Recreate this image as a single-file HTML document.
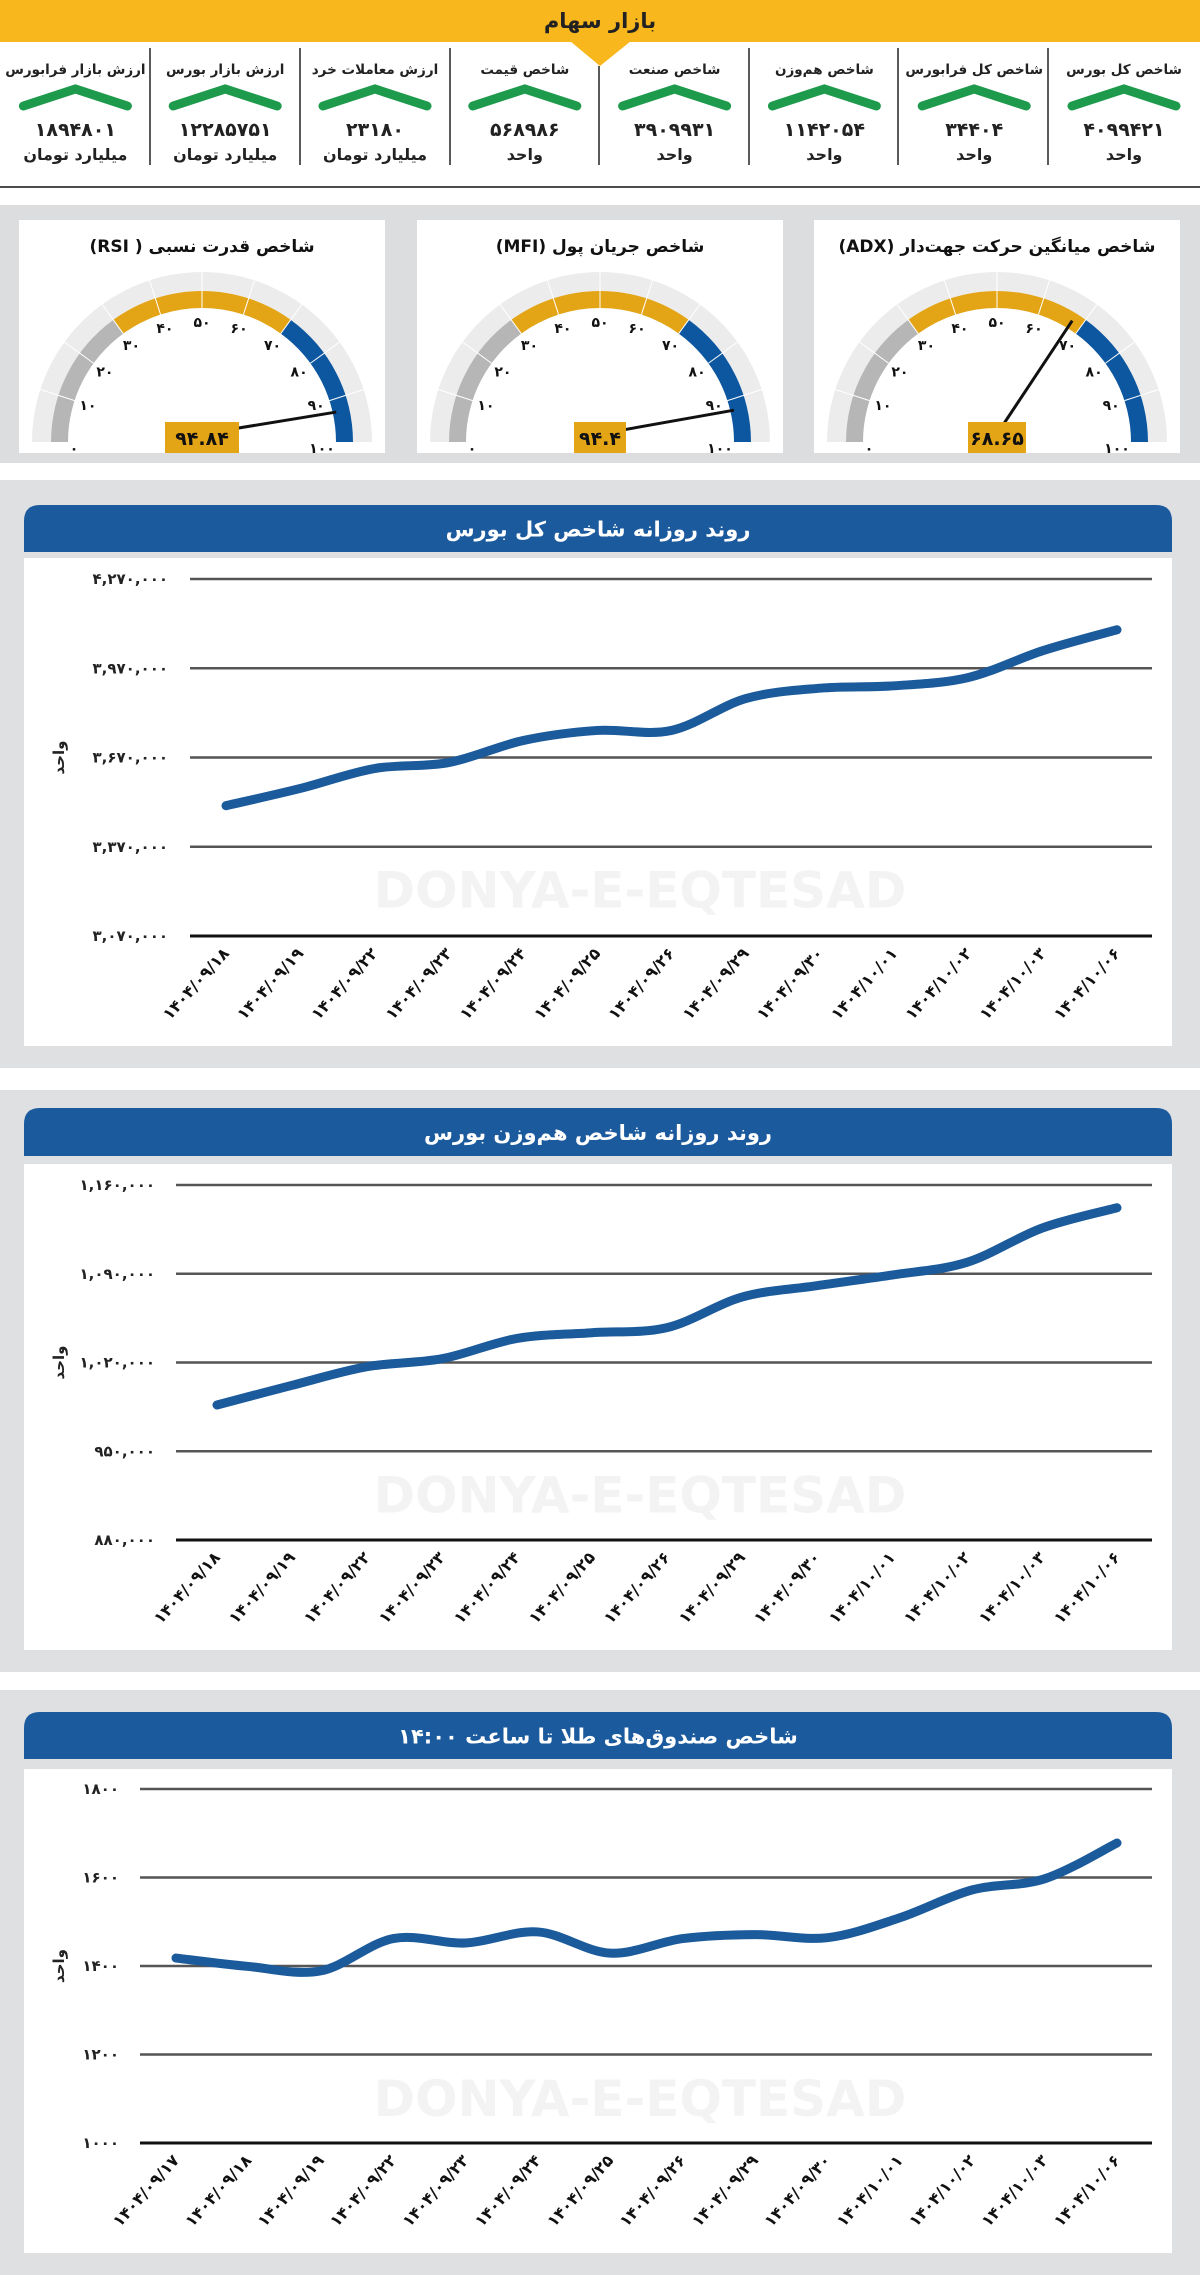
<!DOCTYPE html>
<html lang="fa"><head><meta charset="utf-8"><title>بازار سهام</title>
<style>
html,body{margin:0;padding:0;background:#fff;}
svg{display:block;}
text{font-family:"DejaVu Sans","Liberation Sans",sans-serif;}
</style></head>
<body>
<svg id="root" width="1200" height="2275" viewBox="0 0 1200 2275" xmlns="http://www.w3.org/2000/svg">
  <rect x="0" y="0" width="1200" height="2275" fill="#ffffff"/>
  <g>
    <rect x="0" y="0" width="1200" height="42" fill="#f8b71c"/>
    <polygon points="570,41 631,41 600,66" fill="#f8b71c"/>
    <text x="600" y="28" text-anchor="middle" font-size="21" font-weight="bold" fill="#222" direction="rtl">بازار سهام</text>
  </g>
  <g id="stats"></g>
  <line x1="0" y1="187" x2="1200" y2="187" stroke="#111" stroke-width="1.5"/>
  <rect x="0" y="205" width="1200" height="258" fill="#dcdddf"/>
  <g id="gauges"></g>
  <g id="charts"></g>
</svg>
<script>
const NS='http://www.w3.org/2000/svg';
function mk(tag, attrs, parent){const e=document.createElementNS(NS,tag);for(const k in attrs)e.setAttribute(k,attrs[k]);parent.appendChild(e);return e;}

const statTitles=['شاخص کل بورس','شاخص کل فرابورس','شاخص هم‌وزن','شاخص صنعت','شاخص قیمت','ارزش معاملات خرد','ارزش بازار بورس','ارزش بازار فرابورس'];
const statValues=['۴۰۹۹۴۲۱','۳۴۴۰۴','۱۱۴۲۰۵۴','۳۹۰۹۹۳۱','۵۶۸۹۸۶','۲۳۱۸۰','۱۲۲۸۵۷۵۱','۱۸۹۴۸۰۱'];
const statUnits=['واحد','واحد','واحد','واحد','واحد','میلیارد تومان','میلیارد تومان','میلیارد تومان'];

const gaugeTitles=['شاخص میانگین حرکت جهت‌دار (ADX)','شاخص جریان پول (MFI)','شاخص قدرت نسبی ( RSI)'];
const gaugeValues=[68.65,94.4,94.84];
const gaugeLabels=['۶۸.۶۵','۹۴.۴','۹۴.۸۴'];
const gaugeTicks=['۰','۱۰','۲۰','۳۰','۴۰','۵۰','۶۰','۷۰','۸۰','۹۰','۱۰۰'];

const c1Dates=['۱۴۰۴/۰۹/۱۸','۱۴۰۴/۰۹/۱۹','۱۴۰۴/۰۹/۲۲','۱۴۰۴/۰۹/۲۳','۱۴۰۴/۰۹/۲۴','۱۴۰۴/۰۹/۲۵','۱۴۰۴/۰۹/۲۶','۱۴۰۴/۰۹/۲۹','۱۴۰۴/۰۹/۳۰','۱۴۰۴/۱۰/۰۱','۱۴۰۴/۱۰/۰۲','۱۴۰۴/۱۰/۰۳','۱۴۰۴/۱۰/۰۶'];
const c1Values=[3508000,3566000,3633000,3653000,3727000,3761000,3761000,3868000,3903000,3911000,3939000,4029000,4099421];
const c1Ticks=[3070000,3370000,3670000,3970000,4270000];
const c1TickLabels=['۳,۰۷۰,۰۰۰','۳,۳۷۰,۰۰۰','۳,۶۷۰,۰۰۰','۳,۹۷۰,۰۰۰','۴,۲۷۰,۰۰۰'];

const c2Dates=['۱۴۰۴/۰۹/۱۸','۱۴۰۴/۰۹/۱۹','۱۴۰۴/۰۹/۲۲','۱۴۰۴/۰۹/۲۳','۱۴۰۴/۰۹/۲۴','۱۴۰۴/۰۹/۲۵','۱۴۰۴/۰۹/۲۶','۱۴۰۴/۰۹/۲۹','۱۴۰۴/۰۹/۳۰','۱۴۰۴/۱۰/۰۱','۱۴۰۴/۱۰/۰۲','۱۴۰۴/۱۰/۰۳','۱۴۰۴/۱۰/۰۶'];
const c2Values=[986500,1002000,1016700,1023000,1039000,1043500,1047500,1071600,1080600,1089000,1099000,1126000,1142054];
const c2Ticks=[880000,950000,1020000,1090000,1160000];
const c2TickLabels=['۸۸۰,۰۰۰','۹۵۰,۰۰۰','۱,۰۲۰,۰۰۰','۱,۰۹۰,۰۰۰','۱,۱۶۰,۰۰۰'];

const c3Dates=['۱۴۰۴/۰۹/۱۷','۱۴۰۴/۰۹/۱۸','۱۴۰۴/۰۹/۱۹','۱۴۰۴/۰۹/۲۲','۱۴۰۴/۰۹/۲۳','۱۴۰۴/۰۹/۲۴','۱۴۰۴/۰۹/۲۵','۱۴۰۴/۰۹/۲۶','۱۴۰۴/۰۹/۲۹','۱۴۰۴/۰۹/۳۰','۱۴۰۴/۱۰/۰۱','۱۴۰۴/۱۰/۰۲','۱۴۰۴/۱۰/۰۳','۱۴۰۴/۱۰/۰۶'];
const c3Values=[1418,1399,1389,1462,1452,1477,1429,1462,1471,1464,1509,1572,1597,1678];
const c3Ticks=[1000,1200,1400,1600,1800];
const c3TickLabels=['۱۰۰۰','۱۲۰۰','۱۴۰۰','۱۶۰۰','۱۸۰۰'];

const stats=document.getElementById('stats');
statTitles.forEach((t,i)=>{
  const cx=1124-i*149.8;
  const g=mk('g',{},stats);
  
  
  const tt=mk('text',{x:cx,y:74,'text-anchor':'middle','font-size':13.5,'font-weight':'bold',fill:'#222',direction:'rtl'},g);
  tt.textContent=t;
  
  
  const ch=mk('polyline',{points:`${cx-52},106 ${cx},89 ${cx+52},106`,fill:'none',stroke:'#1e9a4c','stroke-width':9,'stroke-linecap':'round','stroke-linejoin':'miter'},g);
  
  
  const nv=mk('text',{x:cx,y:136,'text-anchor':'middle','font-size':19,'font-weight':'bold',fill:'#222'},g);
  nv.textContent=statValues[i];
  
  
  const un=mk('text',{x:cx,y:160,'text-anchor':'middle','font-size':16,'font-weight':'bold',fill:'#222',direction:'rtl'},g);
  un.textContent=statUnits[i];
  
  
  if(i<7){
    const sx=Math.round(1048-i*149.6);
    const sl=mk('line',{x1:sx,y1:i===3?66:48,x2:sx,y2:165,stroke:'#222','stroke-width':1.5},stats);
    
    
  }
});

const gauges=document.getElementById('gauges');
const cardX=[814,417,19];
function pt(cx,cy,r,v){const a=Math.PI-v/100*Math.PI;return [cx+r*Math.cos(a),cy-r*Math.sin(a)];}
function arcPath(cx,cy,r1,r2,v1,v2){
  const [a,b]=pt(cx,cy,r2,v1),[c,d]=pt(cx,cy,r2,v2),[e,f]=pt(cx,cy,r1,v2),[g,h]=pt(cx,cy,r1,v1);
  return `M${a},${b} A${r2},${r2} 0 0 1 ${c},${d} L${e},${f} A${r1},${r1} 0 0 0 ${g},${h} Z`;
}
gaugeTitles.forEach((t,i)=>{
  const x0=cardX[i],w=366,cx=x0+w/2,cy=442;
  const g=mk('g',{},gauges);
  
  
  mk('rect',{x:x0,y:220,width:w,height:233,fill:'#fff'},g);
  const tt=mk('text',{x:cx,y:252,'text-anchor':'middle','font-size':17,'font-weight':'bold',fill:'#111',direction:'rtl'},g);
  tt.textContent=t;
  
  
  mk('path',{d:arcPath(cx,cy,151,170,0,100),fill:'#ececec'},g);
  const segs=[[0,30,'#b6b6b6'],[30,70,'#e3a416'],[70,100,'#0d57a0']];
  segs.forEach(s=>{
    const p=mk('path',{d:arcPath(cx,cy,134,151,s[0],s[1]),fill:s[2]},g);
    
    
  });
  for(let k=1;k<10;k++){
    const [a,b]=pt(cx,cy,134,k*10),[c,d]=pt(cx,cy,170,k*10);
    mk('line',{x1:a,y1:b,x2:c,y2:d,stroke:'#fff','stroke-width':1},g);
  }
  gaugeTicks.forEach((lab,k)=>{
    const v=k*10;
    let [a,b]=pt(cx,cy,120,v);
    if(k===0){a=cx-128;b=cy+6;} if(k===10){a=cx+120;b=cy+6;}
    const tx=mk('text',{x:a,y:b+5,'text-anchor':'middle','font-size':14,'font-weight':'bold',fill:'#111'},g);
    tx.textContent=lab;
    
    
  });
  const [nx,ny]=pt(cx,cy-8,136,gaugeValues[i]);
  const nd=mk('line',{x1:cx,y1:cy-8,x2:nx,y2:ny,stroke:'#111','stroke-width':3},g);
  
  
  const bw=i===0?58:(i===1?52:74);
  mk('rect',{x:cx-bw/2,y:422,width:bw,height:31,fill:'#e3a416'},g);
  const vt=mk('text',{x:cx,y:445,'text-anchor':'middle','font-size':19,'font-weight':'bold',fill:'#111'},g);
  vt.textContent=gaugeLabels[i];
  
  
});

const charts=document.getElementById('charts');
function smooth(pts){
  let d=`M${pts[0][0]},${pts[0][1]}`;
  for(let i=0;i<pts.length-1;i++){
    const p0=pts[i-1]||pts[i],p1=pts[i],p2=pts[i+1],p3=pts[i+2]||p2;
    const c1=[p1[0]+(p2[0]-p0[0])/6,p1[1]+(p2[1]-p0[1])/6];
    const c2=[p2[0]-(p3[0]-p1[0])/6,p2[1]-(p3[1]-p1[1])/6];
    d+=` C${c1[0]},${c1[1]} ${c2[0]},${c2[1]} ${p2[0]},${p2[1]}`;
  }
  return d;
}
function drawChart(L,title,dates,values,ticks,tickLabels){
  const g=mk('g',{},charts);
  
  
  mk('rect',{x:0,y:L.gy0,width:1200,height:L.gy1-L.gy0,fill:'#dfe0e2'},g);
  mk('path',{d:`M24,${L.hy1} L24,${L.hy0+16} Q24,${L.hy0} 40,${L.hy0} L1156,${L.hy0} Q1172,${L.hy0} 1172,${L.hy0+16} L1172,${L.hy1} Z`,fill:'#1c5a9e'},g);
  const tt=mk('text',{x:598,y:(L.hy0+L.hy1)/2+8,'text-anchor':'middle','font-size':21,'font-weight':'bold',fill:'#fff',direction:'rtl'},g);
  tt.textContent=title;
  
  
  mk('rect',{x:24,y:L.by0,width:1148,height:L.by1-L.by0,fill:'#fff'},g);
  const wm=mk('text',{x:640,y:(L.gridTop+L.gridBot)/2+150,'text-anchor':'middle','font-size':50,'font-weight':'bold',fill:'#f3f3f3'},g);
  wm.textContent='DONYA-E-EQTESAD';
  
  
  const yMin=ticks[0],yMax=ticks[ticks.length-1];
  const yS=v=>L.gridBot-(v-yMin)/(yMax-yMin)*(L.gridBot-L.gridTop);
  const xS=i=>L.px0+i*(L.px1-L.px0)/(dates.length-1);
  ticks.forEach((t,k)=>{
    const y=yS(t);
    const gl=mk('line',{x1:L.gx0,y1:y,x2:1152,y2:y,stroke:k===0?'#111':'#555','stroke-width':k===0?3:2.5},g);
    
    
    const tl=mk('text',{x:L.tickX,y:y+5,'text-anchor':'end','font-size':15,'font-weight':'bold',fill:'#222'},g);
    tl.textContent=tickLabels[k];
    
    
  });
  const yt=mk('text',{x:0,y:0,'text-anchor':'middle','font-size':15,'font-weight':'bold',fill:'#222',direction:'rtl',transform:`translate(64,${yS(ticks[2])}) rotate(-90)`},g);
  yt.textContent='واحد';
  
  
  dates.forEach((d,i)=>{
    const x=xS(i)+4,y=L.gridBot+18;
    const xl=mk('text',{x:0,y:0,'text-anchor':'end','font-size':16,'font-weight':'bold',fill:'#111',transform:`translate(${x},${y}) rotate(-48)`},g);
    xl.textContent=d;
    
    
  });
  const pts=values.map((v,i)=>[xS(i),yS(v)]);
  const ln=mk('path',{d:smooth(pts),fill:'none',stroke:'#1b5a9b','stroke-width':9,'stroke-linecap':'round','stroke-linejoin':'round'},g);
  
  
}
drawChart({gy0:480,gy1:1068,hy0:505,hy1:552,by0:558,by1:1046,gridTop:579,gridBot:936,gx0:190,px0:226,px1:1117,tickX:168},
  'روند روزانه شاخص کل بورس',c1Dates,c1Values,c1Ticks,c1TickLabels);
drawChart({gy0:1090,gy1:1672,hy0:1108,hy1:1156,by0:1164,by1:1650,gridTop:1185,gridBot:1540,gx0:176,px0:217,px1:1117,tickX:155},
  'روند روزانه شاخص هم‌وزن بورس',c2Dates,c2Values,c2Ticks,c2TickLabels);
drawChart({gy0:1690,gy1:2275,hy0:1712,hy1:1759,by0:1769,by1:2253,gridTop:1789,gridBot:2143,gx0:140,px0:176,px1:1117,tickX:119},
  'شاخص صندوق‌های طلا تا ساعت ۱۴:۰۰',c3Dates,c3Values,c3Ticks,c3TickLabels);
</script>
</body></html>
